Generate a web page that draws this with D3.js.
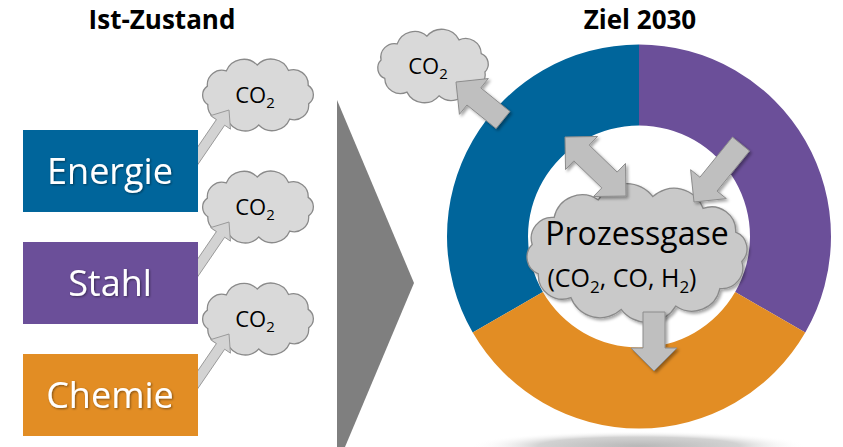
<!DOCTYPE html>
<html>
<head>
<meta charset="utf-8">
<script src="https://cdn.jsdelivr.net/npm/d3@7"></script>
<style>
  body { margin: 0; background: #fff; }
  text { font-family: "Open Sans", sans-serif; }
</style>
</head>
<body>
<div id="chart"></div>
<script>
// data
var categories = ["Energie", "Stahl", "Chemie"];
var catColors = ["#00659b", "#6b4f99", "#e28d24"];
var shares = [1, 1, 1];              // Ziel 2030: three equal sectors
var titles = ["Ist-Zustand", "Ziel 2030"];
var emission = ["CO", "2"];          // CO2 label (main, subscript)
var gasTitle = "Prozessgase";
var gasParts = [["(CO", ""], ["2", "sub"], [", CO, H", ""], ["2", "sub"], [")", ""]];

var width = 843, height = 447;

var svg = d3.select("#chart")
  .append("svg")
    .attr("width", width)
    .attr("height", height);

var defs = svg.append("defs");
var sh = defs.append("filter").attr("id", "shadow")
  .attr("x", "-30%").attr("y", "-30%").attr("width", "160%").attr("height", "160%");
sh.append("feDropShadow").attr("dx", 2).attr("dy", 2).attr("stdDeviation", 1.6)
  .attr("flood-color", "#000").attr("flood-opacity", 0.35);
var tsh = defs.append("filter").attr("id", "tshadow");
tsh.append("feDropShadow").attr("dx", 1).attr("dy", 1).attr("stdDeviation", 0.8)
  .attr("flood-color", "#000").attr("flood-opacity", 0.45);
var rg = defs.append("radialGradient").attr("id", "floor");
rg.append("stop").attr("offset", "0%").attr("stop-color", "#b8b8b8");
rg.append("stop").attr("offset", "60%").attr("stop-color", "#d2d2d2");
rg.append("stop").attr("offset", "100%").attr("stop-color", "#fff").attr("stop-opacity", 0);

var color = d3.scaleOrdinal().domain(categories).range(catColors);

// scalloped cloud outline
function cloudPath(cx, cy, rx, ry, n, off) {
  var pts = d3.range(n).map(function(i) {
    var a = i / n * 2 * Math.PI + (off || 0);
    return [cx + rx * Math.cos(a), cy + ry * Math.sin(a)];
  });
  var d = "M" + pts[0];
  pts.forEach(function(p, i) {
    var q = pts[(i + 1) % n];
    var r = Math.hypot(q[0] - p[0], q[1] - p[1]) * 0.6;
    d += "A" + r + "," + r + " 0 0 1 " + q[0] + "," + q[1];
  });
  return d + "Z";
}

// block arrow from (x1,y1) to tip (x2,y2)
function arrowPath(x1, y1, x2, y2, sw, hw, hl, dbl) {
  var L = Math.hypot(x2 - x1, y2 - y1), a = Math.atan2(y2 - y1, x2 - x1);
  var p = dbl
    ? [[0,0],[hl,-hw/2],[hl,-sw/2],[L-hl,-sw/2],[L-hl,-hw/2],[L,0],[L-hl,hw/2],[L-hl,sw/2],[hl,sw/2],[hl,hw/2]]
    : [[0,-sw/2],[L-hl,-sw/2],[L-hl,-hw/2],[L,0],[L-hl,hw/2],[L-hl,sw/2],[0,sw/2]];
  var c = Math.cos(a), s = Math.sin(a);
  return "M" + p.map(function(d) {
    return [x1 + d[0] * c - d[1] * s, y1 + d[0] * s + d[1] * c];
  }).join("L") + "Z";
}

function co2(g, x, y, size) {
  var t = g.append("text").attr("x", x).attr("y", y)
    .attr("text-anchor", "middle").style("font-size", size + "px").attr("fill", "#000");
  t.append("tspan").text(emission[0]);
  t.append("tspan").attr("dy", size * 0.22).style("font-size", (size * 0.68) + "px").text(emission[1]);
}

// ---------- titles
svg.selectAll(".title")
  .data(titles)
  .enter().append("text")
    .attr("x", function(d, i) { return i ? 640 : 162; })
    .attr("y", 29)
    .attr("text-anchor", "middle")
    .style("font-size", "26px")
    .style("font-weight", "bold")
    .text(function(d) { return d; });

// ---------- left: current state
var y = d3.scaleBand().domain(categories).range([130, 436]).paddingInner(0.268);

var left = svg.append("g");
categories.forEach(function(c) {
  var top = y(c);
  left.append("path")
    .attr("d", cloudPath(258, top - 35, 53, 30, 10, 0.3))
    .attr("fill", "#d9d9d9").attr("stroke", "#8a8a8a").attr("stroke-width", 1.3);
  left.append("path")
    .attr("d", arrowPath(188, top + 40, 229, top - 20, 10, 24, 15, false))
    .attr("fill", "#d3d3d3").attr("stroke", "#9a9a9a").attr("stroke-width", 1);
  co2(left, 255, top - 27, 22);
});

left.selectAll(".box")
  .data(categories)
  .enter().append("rect")
    .attr("x", 23)
    .attr("y", function(d) { return y(d); })
    .attr("width", 175)
    .attr("height", y.bandwidth())
    .attr("fill", function(d) { return color(d); });

left.selectAll(".lbl")
  .data(categories)
  .enter().append("text")
    .attr("x", 110)
    .attr("y", function(d) { return y(d) + y.bandwidth() / 2 + 13; })
    .attr("text-anchor", "middle")
    .attr("fill", "#fff")
    .attr("filter", "url(#tshadow)")
    .style("font-size", "36px")
    .text(function(d) { return d; });

// ---------- big chevron
svg.append("path")
  .attr("d", "M337,100L414,283L337,466Z")
  .attr("fill", "#7f7f7f");

// ---------- right: target 2030 donut
var cx = 639, cy = 236.5, outerR = 192, innerR = 111;

svg.append("ellipse")
  .attr("cx", cx).attr("cy", 446).attr("rx", 168).attr("ry", 15)
  .attr("fill", "url(#floor)");

var pie = d3.pie().sort(null).startAngle(-2 * Math.PI / 3).endAngle(4 * Math.PI / 3);
var arc = d3.arc().innerRadius(innerR).outerRadius(outerR);
var ring = svg.append("g").attr("transform", "translate(" + cx + "," + cy + ")");
ring.selectAll("path")
  .data(pie(shares))
  .enter().append("path")
    .attr("d", arc)
    .attr("fill", function(d, i) { return color(categories[i]); });

// small cloud top-left
svg.append("path")
  .attr("d", cloudPath(433, 66, 53, 30, 10, 0.2))
  .attr("fill", "#d9d9d9").attr("stroke", "#8a8a8a").attr("stroke-width", 1.3);
co2(svg, 428, 74, 22);

// central cloud
svg.append("path")
  .attr("d", cloudPath(637, 253, 106, 57, 12, 0.15))
  .attr("fill", "#c9c9c9").attr("stroke", "#8a8a8a").attr("stroke-width", 1.3)
  .attr("filter", "url(#shadow)");

svg.append("text")
  .attr("x", 637).attr("y", 245)
  .attr("text-anchor", "middle")
  .style("font-size", "32px")
  .text(gasTitle);

var sub = svg.append("text")
  .attr("x", 622).attr("y", 287)
  .attr("text-anchor", "middle")
  .style("font-size", "25px");
gasParts.forEach(function(p) {
  var t = sub.append("tspan").text(p[0]);
  if (p[1] === "sub") t.attr("dy", 6).style("font-size", "17px");
  else if (sub.selectAll("tspan").size() > 1) t.attr("dy", -6);
});

// grey arrows
var arrows = [
  [503, 120, 456, 82, false],
  [565, 137, 626, 196, true],
  [741, 144, 694, 202, false],
  [654, 312, 654, 371, false]
];
svg.selectAll(".arr")
  .data(arrows)
  .enter().append("path")
    .attr("d", function(d) { return arrowPath(d[0], d[1], d[2], d[3], 22, 46, 23, d[4]); })
    .attr("fill", "#bfbfbf")
    .attr("stroke", "#8c8c8c")
    .attr("stroke-width", 1)
    .attr("filter", "url(#shadow)");
</script>
</body>
</html>
